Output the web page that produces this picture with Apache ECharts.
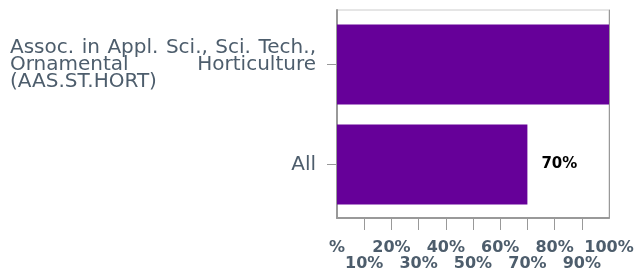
<!DOCTYPE html>
<html>
<head>
<meta charset="utf-8">
<script src="https://cdn.jsdelivr.net/npm/echarts@6/dist/echarts.min.js"></script>
<style>
	html, body { margin: 0; padding: 0; background: #fff; }
	#chart { width: 639px; height: 270px; }
</style>
</head>
<body>
<div id="chart"></div>
<script>
// categories, bottom to top
var categories = ['All', 'Assoc. in Appl. Sci., Sci. Tech., Ornamental Horticulture (AAS.ST.HORT)'];
// how the long name is broken on the axis (lines, words)
var labelLines = [
	['Assoc.', 'in', 'Appl.', 'Sci.,', 'Sci.', 'Tech.,'],
	['Ornamental', 'Horticulture'],
	['(AAS.ST.HORT)']
];
var values = [70, 100];
var valueLabels = ['70%', ''];
// x tick labels: even ones on the first row, odd ones on the second
var tickLabels = ['%', '10%', '20%', '30%', '40%', '50%', '60%', '70%', '80%', '90%', '100%'];

var TEXT_COLOR = '#4d5d6c';
var AXIS_COLOR = '#999';
var LABEL_SIZE = 20;
var LABEL_FONT = LABEL_SIZE + 'px "DejaVu Sans"';
var LABEL_BOX = 306;

function textWidth(str) {
	var ctx = textWidth.ctx;
	if(!ctx) {
		ctx = textWidth.ctx = document.createElement('canvas').getContext('2d');
	}
	ctx.font = LABEL_FONT;
	return ctx.measureText(str).width;
}

// justified block: every line but the last is spread to LABEL_BOX
function buildJustified(lines) {
	var rich = {};
	var out = [];
	for(var i=0; i<lines.length; i++) {
		var words = lines[i];
		if(i == lines.length - 1 || words.length < 2) {
			out.push('{l|' + words.join(' ') + '}');
			continue;
		}
		var used = 0;
		for(var j=0; j<words.length; j++) used += textWidth(words[j]);
		var gap = (LABEL_BOX - used) / (words.length - 1);
		rich['g' + i] = { width: gap, align: 'left' };
		var s = '';
		for(var k=0; k<words.length; k++) {
			s += '{l|' + words[k] + '}';
			if(k < words.length - 1) s += '{g' + i + '| }';
		}
		out.push(s);
	}
	rich.l = { align: 'left', color: TEXT_COLOR, fontFamily: 'DejaVu Sans', fontSize: LABEL_SIZE, lineHeight: 17 };
	return { text: out.join('\n'), rich: rich };
}

function tickLabelStyle() {
	return {
		margin: 22,
		interval: 0,
		hideOverlap: false,
		color: TEXT_COLOR,
		fontFamily: 'DejaVu Sans',
		fontWeight: 'bold',
		fontSize: 16,
		lineHeight: 16,
		verticalAlign: 'top'
	};
}

function buildChart() {
	var chart = echarts.init(document.getElementById('chart'));
	var longLabel = buildJustified(labelLines);

	var evenLabel = tickLabelStyle();
	evenLabel.showMinLabel = true;
	evenLabel.showMaxLabel = true;
	evenLabel.formatter = function(v) {
		return tickLabels[Math.round(v / 10)];
	};
	var oddLabel = tickLabelStyle();
	oddLabel.showMinLabel = false;
	oddLabel.showMaxLabel = false;
	oddLabel.formatter = function(v) {
		var idx = Math.round(v / 10);
		return idx % 2 == 1 ? '\n' + tickLabels[idx] : '';
	};

	var option = {
		animation: false,
		grid: [{
			left: 337,
			right: 30,
			top: 10,
			bottom: 52,
			outerBoundsMode: 'none',
			containLabel: false,
			show: true,
			borderColor: '#ccc',
			borderWidth: 1
		}, {
			left: 337,
			right: 30,
			top: 14.5,
			bottom: 55.5,
			outerBoundsMode: 'none',
			containLabel: false
		}],
		xAxis: [{
			gridIndex: 0,
			type: 'value',
			min: 0,
			max: 100,
			interval: 20,
			axisLine: { show: true, lineStyle: { color: AXIS_COLOR, width: 2 } },
			axisTick: { show: false },
			splitLine: { show: false },
			axisLabel: evenLabel
		}, {
			gridIndex: 1,
			type: 'value',
			position: 'bottom',
			offset: 3.5,
			min: 0,
			max: 100,
			interval: 10,
			axisLine: { show: false },
			axisTick: { show: true, length: 12, lineStyle: { color: AXIS_COLOR } },
			splitLine: { show: false },
			axisLabel: oddLabel
		}],
		yAxis: [{
			gridIndex: 0,
			type: 'value',
			position: 'left',
			axisLine: { show: true, lineStyle: { color: AXIS_COLOR, width: 2 } },
			axisTick: { show: false },
			axisLabel: { show: false },
			splitLine: { show: false }
		}, {
			gridIndex: 0,
			type: 'value',
			position: 'right',
			axisLine: { show: true, lineStyle: { color: AXIS_COLOR, width: 1 } },
			axisTick: { show: false },
			axisLabel: { show: false },
			splitLine: { show: false }
		}, {
			gridIndex: 1,
			type: 'category',
			data: categories,
			axisLine: { show: false },
			axisTick: { show: true, length: 10, alignWithLabel: true, lineStyle: { color: AXIS_COLOR } },
			axisLabel: {
				margin: 21,
				color: TEXT_COLOR,
				fontFamily: 'DejaVu Sans',
				fontSize: LABEL_SIZE,
				lineHeight: 17,
				rich: longLabel.rich,
				formatter: function(v, i) {
					return i == 1 ? longLabel.text : v;
				}
			}
		}],
		series: [{
			type: 'bar',
			xAxisIndex: 1,
			yAxisIndex: 2,
			data: values,
			barWidth: 80,
			itemStyle: { color: '#660099' },
			label: {
				show: true,
				position: 'right',
				distance: 14,
				color: '#000',
				fontFamily: 'DejaVu Sans',
				fontWeight: 'bold',
				fontSize: 15,
				formatter: function(p) {
					return valueLabels[p.dataIndex];
				}
			}
		}]
	};
	chart.setOption(option, true);
}

buildChart();
</script>
</body>
</html>
